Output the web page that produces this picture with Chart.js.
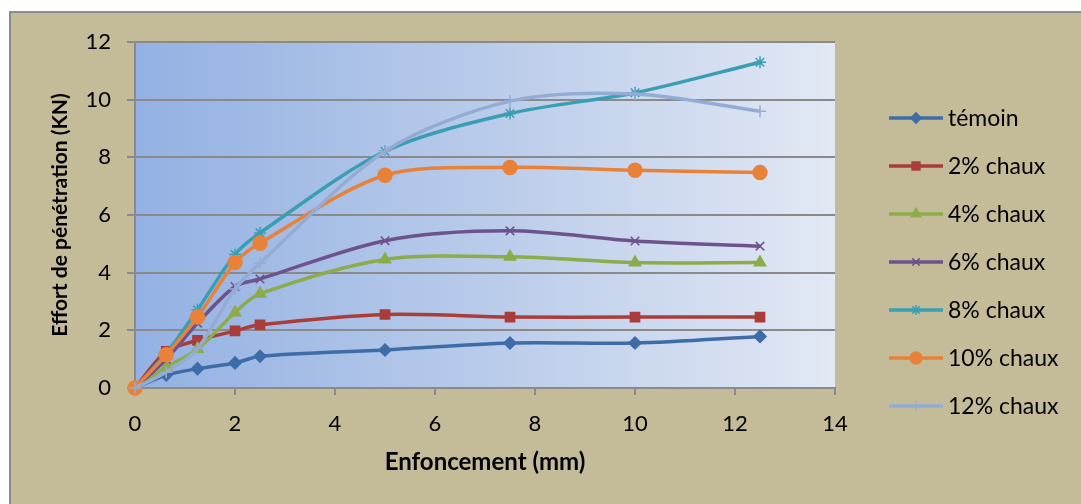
<!DOCTYPE html>
<html>
<head>
<meta charset="utf-8">
<script src="https://cdn.jsdelivr.net/npm/chart.js@4.4.0/dist/chart.umd.min.js"></script>
<style>
    html, body { margin: 0; padding: 0; background: #ffffff; }
    #panel {
        position: absolute; left: 9px; top: 11px; width: 1072px; height: 493px;
        background: #c4bc98; border-left: 2px solid #8c8c8c; border-top: 2px solid #8c8c8c;
        box-sizing: border-box;
    }
    #chartContainer { position: absolute; left: 0; top: 0; width: 1081px; height: 504px; }
</style>
</head>
<body>
<div id="panel"></div>
<div id="chartContainer"><canvas id="penChart" width="1081" height="504"></canvas></div>
<script>
// enfoncement (mm)
const depths = [0, 0.625, 1.25, 2, 2.5, 5, 7.5, 10, 12.5];

// effort de pénétration (KN) for each mix
const temoin  = [0, 0.45, 0.67, 0.87, 1.10, 1.32, 1.56, 1.56, 1.79];
const chaux2  = [0, 1.27, 1.65, 1.98, 2.19, 2.55, 2.46, 2.46, 2.46];
const chaux4  = [0, 0.72, 1.35, 2.62, 3.27, 4.46, 4.55, 4.35, 4.35];
const chaux6  = [0, 1.00, 2.25, 3.52, 3.78, 5.11, 5.45, 5.10, 4.92];
const chaux8  = [0, 1.20, 2.71, 4.63, 5.38, 8.21, 9.52, 10.24, 11.30];
const chaux10 = [0, 1.15, 2.46, 4.35, 5.02, 7.38, 7.65, 7.55, 7.47];
const chaux12 = [0, 0.55, 1.37, 3.43, 4.33, 8.21, 9.95, 10.20, 9.60];

const seriesNames = ['témoin', '2% chaux', '4% chaux', '6% chaux', '8% chaux', '10% chaux', '12% chaux'];
const seriesValues = [temoin, chaux2, chaux4, chaux6, chaux8, chaux10, chaux12];
const xTicks = [0, 2, 4, 6, 8, 10, 12, 14];
const yTicks = [0, 2, 4, 6, 8, 10, 12];

const colors = ['#3e6ca7', '#aa3c3a', '#8bac48', '#6e528c', '#3a9eb2', '#e88238', '#94acd4'];
const markers = ['rectRot', 'rect', 'triangle', 'crossRot', 'star', 'circle', 'cross'];
const markerSizes = [6, 6.5, 6.5, 6, 6, 7, 6];

const FONT = 'Lato, "Open Sans", sans-serif';

// plot area gradient, blue on the left fading to pale on the right
const plotBackground = {
    id: 'plotBackground',
    beforeDraw(chart) {
        const a = chart.chartArea;
        const ctx = chart.ctx;
        const g = ctx.createLinearGradient(a.left, 0, a.right, 0);
        g.addColorStop(0, '#93b1e3');
        g.addColorStop(0.5, '#b9cbea');
        g.addColorStop(1, '#e2e8f4');
        ctx.save();
        ctx.fillStyle = g;
        ctx.fillRect(a.left, a.top, a.right - a.left, a.bottom - a.top);
        ctx.restore();
    }
};

// legend with line + marker, like the spreadsheet one
const lineLegend = {
    id: 'lineLegend',
    afterDraw(chart) {
        const ctx = chart.ctx;
        const x0 = 889, x1 = 943, textX = 948;
        const y0 = 118, step = 48;
        ctx.save();
        for (let i = 0; i < seriesNames.length; i++) {
            const y = y0 + i * step;
            ctx.strokeStyle = colors[i];
            ctx.lineWidth = 3.5;
            ctx.beginPath();
            ctx.moveTo(x0, y);
            ctx.lineTo(x1, y);
            ctx.stroke();
            if (Chart.helpers && Chart.helpers.drawPoint) {
                ctx.fillStyle = colors[i];
                ctx.strokeStyle = colors[i];
                ctx.lineWidth = 1.5;
                Chart.helpers.drawPoint(ctx, {
                    pointStyle: markers[i],
                    radius: markerSizes[i] * 0.85,
                    rotation: 0,
                    borderWidth: 1.5
                }, (x0 + x1) / 2, y);
            }
            ctx.fillStyle = '#000000';
            ctx.font = '23px ' + FONT;
            ctx.textBaseline = 'middle';
            ctx.textAlign = 'left';
            ctx.fillText(seriesNames[i], textX, y + 1);
        }
        ctx.restore();
    }
};

const datasets = seriesValues.map((vals, i) => ({
    label: seriesNames[i],
    data: vals.map((v, k) => ({ x: depths[k], y: v })),
    borderColor: colors[i],
    backgroundColor: colors[i],
    pointBackgroundColor: colors[i],
    pointBorderColor: colors[i],
    pointStyle: markers[i],
    pointRadius: markerSizes[i],
    pointBorderWidth: 1.5,
    borderWidth: 3.5,
    showLine: true,
    fill: false,
    tension: 0.3,
    clip: false,
    order: seriesValues.length - i
}));

const ctx = document.getElementById('penChart').getContext('2d');
const chart = new Chart(ctx, {
    type: 'scatter',
    data: { datasets: datasets },
    plugins: [plotBackground, lineLegend],
    options: {
        responsive: false,
        animation: false,
        layout: { padding: { left: 45, top: 42, right: 246, bottom: 26 } },
        plugins: {
            legend: { display: false },
            tooltip: { enabled: false }
        },
        scales: {
            x: {
                type: 'linear',
                min: 0,
                max: 14,
                afterBuildTicks: (axis) => { axis.ticks = xTicks.map(v => ({ value: v })); },
                afterFit: (axis) => { axis.height = 90; },
                grid: { drawOnChartArea: false, drawTicks: true, tickLength: 7, color: '#8a8a8a', lineWidth: 2 },
                border: { color: '#8a8a8a', width: 2 },
                ticks: { color: '#000000', font: { family: FONT, size: 22 }, padding: 16 },
                title: {
                    display: true,
                    text: 'Enfoncement (mm)',
                    color: '#000000',
                    font: { family: FONT, size: 24, weight: 'bold' },
                    padding: { top: 4, bottom: 1 }
                }
            },
            y: {
                type: 'linear',
                min: 0,
                max: 12,
                afterBuildTicks: (axis) => { axis.ticks = yTicks.map(v => ({ value: v })); },
                afterFit: (axis) => { axis.width = 90; },
                grid: { drawOnChartArea: true, drawTicks: true, tickLength: 8, color: '#8a8a8a', lineWidth: 2 },
                border: { color: '#8a8a8a', width: 2 },
                ticks: { color: '#000000', font: { family: FONT, size: 22 }, padding: 16 },
                title: {
                    display: true,
                    text: 'Effort de pénétration (KN)',
                    color: '#000000',
                    font: { family: FONT, size: 21, weight: 'bold' },
                    padding: { top: 3, bottom: 4 }
                }
            }
        }
    }
});
</script>
</body>
</html>
